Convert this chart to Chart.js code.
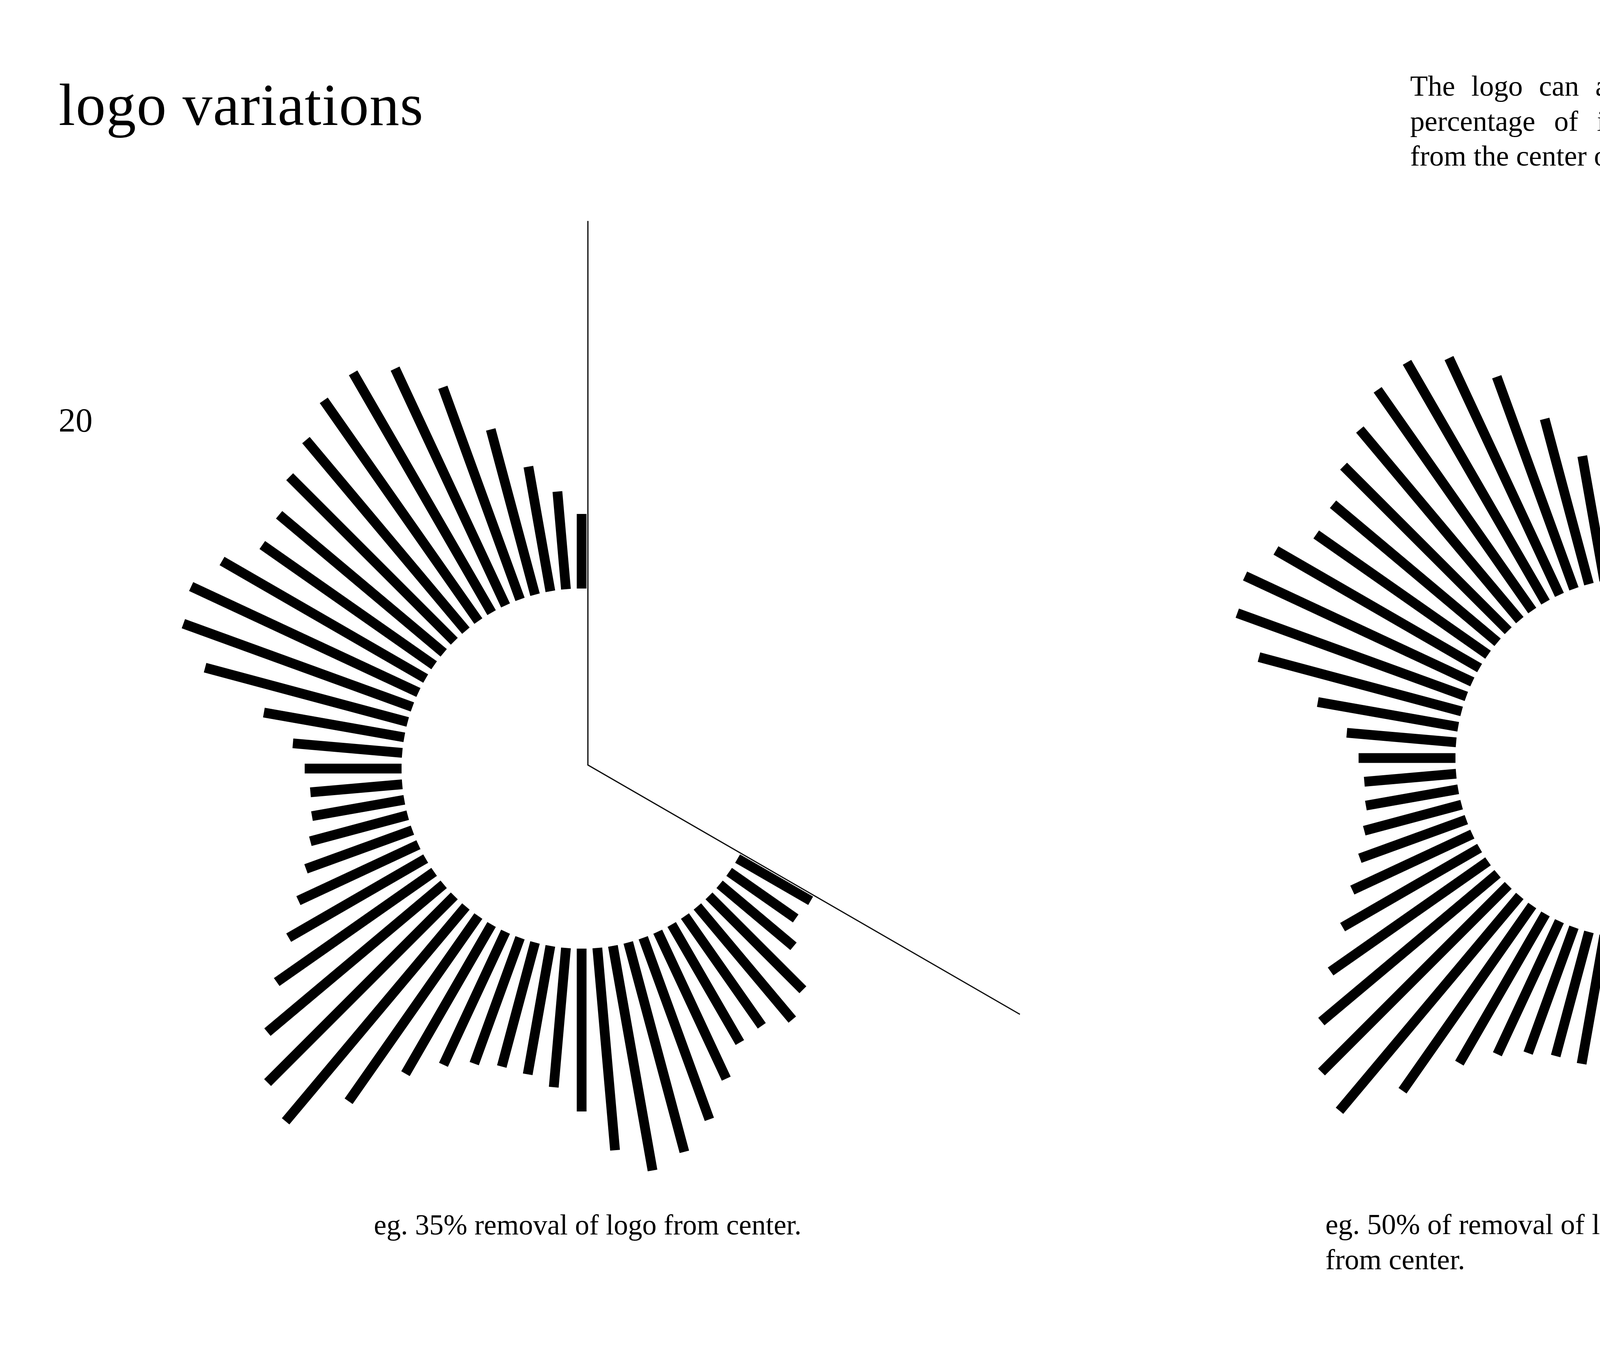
<!DOCTYPE html>
<html>
<head>
<meta charset="utf-8">
<script src="https://cdn.jsdelivr.net/npm/chart.js@4.4.1/dist/chart.umd.min.js"></script>
<style>
  html, body { margin: 0; padding: 0; background: #ffffff; }
  #page { position: relative; width: 4961px; height: 3508px; overflow: hidden; background: #ffffff; }
  #chart { position: absolute; left: 0; top: 0; }
  .t { position: absolute; font-family: "Liberation Serif", "Times New Roman", serif; color: #000; white-space: nowrap; }
  #title { left: 150px; top: 192px; font-size: 153px; line-height: 1; letter-spacing: 1.4px; }
  #pageno { left: 150px; top: 1032px; font-size: 87px; line-height: 1; }
  #para { left: 3610px; top: 176px; width: 1199px; font-size: 74px; line-height: 89.5px; white-space: normal; }
  #para .j { text-align: justify; text-align-last: justify; }
  #capL { left: 957px; top: 3100px; font-size: 73px; line-height: 1; }
  #capR { left: 3393px; top: 3090px; font-size: 74px; line-height: 90px; }
</style>
</head>
<body>
<div id="page">
  <canvas id="chart" width="4961" height="3508"></canvas>
  <div class="t" id="title">logo variations</div>
  <div class="t" id="pageno">20</div>
  <div class="t" id="para">
    <div class="j">The logo can also be divided into a</div>
    <div class="j">percentage of its total circumference</div>
    <div>from the center of the graphic.</div>
  </div>
  <div class="t" id="capL">eg. 35% removal of logo from center.</div>
  <div class="t" id="capR">eg. 50% of removal of logo (horizontal)<br>from center.</div>
</div>
<script>
// ---- data: angle of each bar (degrees, counter-clockwise from top) and its length ----
const barAngles = [0, 5, 10, 15, 20, 25, 30, 35, 40, 45, 50, 55, 60, 65, 70, 75, 80, 85, 90,
  95, 100, 105, 110, 115, 120, 125, 130, 135, 140, 145, 150, 155, 160, 165, 170, 175, 180,
  185, 190, 195, 200, 205, 210, 215, 220, 225, 230, 235, 240];
const barLengths = [191, 251, 324, 438, 578, 669, 709, 690, 637, 596, 550, 537, 602, 642, 624, 537, 365, 281, 248,
  236, 240, 258, 290, 339, 405, 492, 589, 676, 718, 579, 441, 376, 343, 329, 334, 358, 417,
  520, 584, 555, 495, 415, 349, 343, 378, 340, 247, 208, 216];
// how far round (degrees) each variation keeps the logo
const leftKeepDeg = 240;   // 35% removed
const rightKeepDeg = 180;  // 50% removed (horizontal)
// guide lines: angles of the cut (deg, ccw from top) and their lengths
const leftGuideAngles = [0, 240];
const leftGuideLengths = [1393, 1277];
const rightGuideAngles = [0, 180];
const rightGuideLengths = [1238, 1059];

// ---- layout / style ----
const W = 4961, H = 3508;
const innerRadius = 461;
const barWidth = 25;
const guideWidth = 3;
const leftCenter = { x: 1489, y: 1968 };
const rightCenter = { x: 4187, y: 1941 };
const leftGuideOffset = 16;
const rightGuideOffset = 12;

function polar(c, deg, r) {
  const a = deg * Math.PI / 180;
  return { x: c.x - r * Math.sin(a), y: c.y - r * Math.cos(a) };
}

function barDatasets(center, keepDeg) {
  const out = [];
  barAngles.forEach((ang, i) => {
    if (ang > keepDeg) return;
    out.push({
      data: [polar(center, ang, innerRadius), polar(center, ang, innerRadius + barLengths[i])],
      showLine: true,
      borderColor: '#000000',
      borderWidth: barWidth,
      borderCapStyle: 'butt',
      pointRadius: 0,
      fill: false,
      tension: 0
    });
  });
  return out;
}

function guideDatasets(center, angles, lengths, offset) {
  const a0 = angles[0] * Math.PI / 180, a1 = angles[1] * Math.PI / 180;
  const d0 = { x: -Math.sin(a0), y: -Math.cos(a0) };
  const d1 = { x: -Math.sin(a1), y: -Math.cos(a1) };
  const n0 = { x: -d0.y, y: d0.x };
  const n1 = { x: d1.y, y: -d1.x };
  let corner;
  const det = n0.x * n1.y - n0.y * n1.x;
  if (Math.abs(det) < 1e-6) {
    corner = { x: center.x + n0.x * offset, y: center.y + n0.y * offset };
  } else {
    const px = (offset * n1.y - offset * n0.y) / det;
    const py = (n0.x * offset - n1.x * offset) / det;
    corner = { x: center.x + px, y: center.y + py };
  }
  const e0 = { x: corner.x + d0.x * lengths[0], y: corner.y + d0.y * lengths[0] };
  const e1 = { x: corner.x + d1.x * lengths[1], y: corner.y + d1.y * lengths[1] };
  return [{
    data: [e0, corner, e1],
    showLine: true,
    borderColor: '#000000',
    borderWidth: guideWidth,
    borderJoinStyle: 'miter',
    borderCapStyle: 'butt',
    pointRadius: 0,
    fill: false,
    tension: 0
  }];
}

const datasets = [].concat(
  guideDatasets(leftCenter, leftGuideAngles, leftGuideLengths, leftGuideOffset),
  guideDatasets(rightCenter, rightGuideAngles, rightGuideLengths, rightGuideOffset),
  barDatasets(leftCenter, leftKeepDeg),
  barDatasets(rightCenter, rightKeepDeg)
);

new Chart(document.getElementById('chart'), {
  type: 'scatter',
  data: { datasets },
  options: {
    responsive: false,
    maintainAspectRatio: false,
    devicePixelRatio: 1,
    animation: false,
    events: [],
    layout: { padding: 0 },
    plugins: { legend: { display: false }, tooltip: { enabled: false }, title: { display: false } },
    scales: {
      x: { type: 'linear', min: 0, max: W, display: false },
      y: { type: 'linear', min: 0, max: H, reverse: true, display: false }
    }
  }
});
</script>
</body>
</html>
